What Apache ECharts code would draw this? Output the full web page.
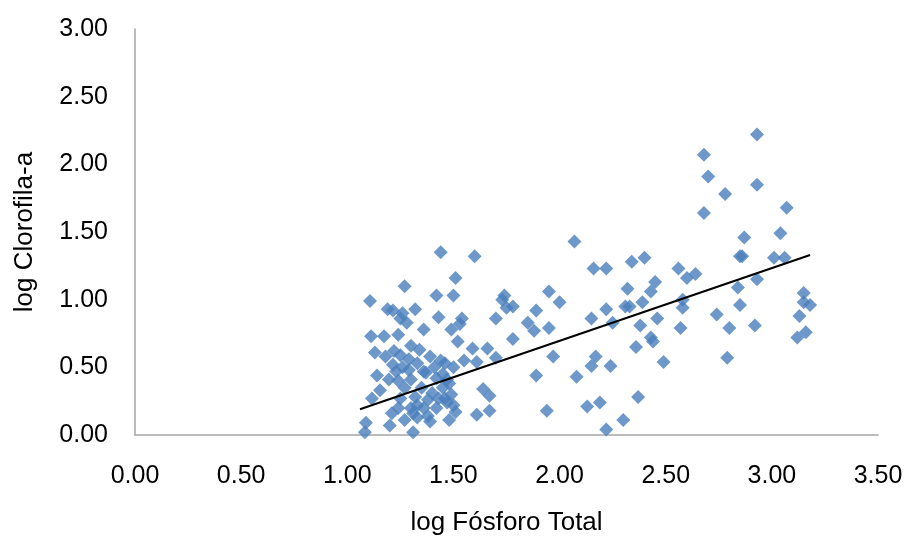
<!DOCTYPE html>
<html>
<head>
<meta charset="utf-8">
<script src="https://cdn.jsdelivr.net/npm/echarts@6/dist/echarts.min.js"></script>
<style>
  html, body { margin: 0; padding: 0; background: #ffffff; overflow: hidden; }
  #chart { width: 910px; height: 538px; }
</style>
</head>
<body>
<div id="chart"></div>
<script>
// log Fósforo Total (x) for each sample
const logFosforo = [
  1.083, 1.088, 1.107, 1.112, 1.116, 1.13, 1.14, 1.154, 1.173, 1.18,
  1.19, 1.196, 1.20, 1.21, 1.215, 1.215, 1.23, 1.24, 1.24, 1.25,
  1.25, 1.25, 1.26, 1.27, 1.27, 1.27, 1.28, 1.29, 1.30, 1.30,
  1.30, 1.31, 1.32, 1.32, 1.33, 1.33, 1.34, 1.35, 1.36, 1.36,
  1.37, 1.38, 1.39, 1.39, 1.40, 1.42, 1.42, 1.42, 1.43, 1.44,
  1.44, 1.45, 1.46, 1.46, 1.47, 1.48, 1.49, 1.49, 1.50, 1.50,
  1.51, 1.51, 1.52, 1.53, 1.54, 1.55, 1.59, 1.60, 1.61, 1.61,
  1.64, 1.66, 1.67, 1.67, 1.70, 1.70, 1.73, 1.74, 1.75, 1.78,
  1.78, 1.85, 1.88, 1.89, 1.89, 1.94, 1.95, 1.95, 1.97, 2.00,
  2.07, 2.08, 2.13, 2.15, 2.15, 2.16, 2.17, 2.19, 2.22, 2.22,
  2.22, 2.24, 2.25, 2.30, 2.31, 2.32, 2.33, 2.34, 2.36, 2.37,
  2.38, 2.39, 2.40, 2.43, 2.43, 2.44, 2.45, 2.46, 2.49, 2.56,
  2.57, 2.58, 2.58, 2.60, 2.64, 2.68, 2.68, 2.70, 2.74, 2.78,
  2.79, 2.80, 2.84, 2.85, 2.85, 2.86, 2.87, 2.92, 2.93, 2.93,
  2.93, 3.01, 3.04, 3.06, 3.07, 3.12, 3.13, 3.15, 3.15, 3.16,
  3.18,
  1.22, 1.26, 1.29, 1.33, 1.36, 1.38, 1.43, 1.45, 1.48, 1.50,
  1.24, 1.31, 1.41, 1.47
];

// log Clorofila-a (y) for each sample, same order
const logClorofila = [
  0.02, 0.09, 0.99, 0.73, 0.27, 0.61, 0.44, 0.33, 0.73, 0.58,
  0.93, 0.41, 0.07, 0.16, 0.92, 0.52, 0.47, 0.74, 0.20, 0.86,
  0.59, 0.27, 0.90, 1.10, 0.35, 0.11, 0.83, 0.48, 0.20, 0.66,
  0.41, 0.02, 0.28, 0.93, 0.53, 0.13, 0.63, 0.35, 0.78, 0.20,
  0.46, 0.26, 0.58, 0.10, 0.31, 1.03, 0.42, 0.20, 0.87, 1.35,
  0.55, 0.35, 0.27, 0.53, 0.41, 0.11, 0.30, 0.78, 1.03, 0.50,
  0.17, 1.16, 0.69, 0.82, 0.86, 0.55, 0.64, 1.32, 0.54, 0.15,
  0.34, 0.64, 0.18, 0.29, 0.86, 0.57, 1.00, 1.03, 0.94, 0.71,
  0.95, 0.83, 0.77, 0.92, 0.44, 0.18, 0.79, 1.06, 0.58, 0.98,
  1.43, 0.43, 0.21, 0.51, 0.86, 1.23, 0.58, 0.24, 1.23, 0.93,
  0.04, 0.51, 0.83, 0.11, 0.95, 1.08, 0.95, 1.28, 0.65, 0.28,
  0.81, 0.98, 1.31, 0.72, 1.06, 0.69, 1.13, 0.86, 0.54, 1.23,
  0.79, 1.00, 0.94, 1.16, 1.19, 2.07, 1.64, 1.91, 0.89, 1.78,
  0.57, 0.79, 1.09, 1.32, 0.96, 1.32, 1.46, 0.81, 1.85, 1.15,
  2.22, 1.31, 1.49, 1.31, 1.68, 0.72, 0.88, 1.05, 0.98, 0.76,
  0.96,
  0.62, 0.50, 0.56, 0.22, 0.47, 0.14, 0.27, 0.45, 0.38, 0.22,
  0.40, 0.16, 0.50, 0.24
];

// Linear trend line end points
const trendX = [1.06, 3.18];
const trendY = [0.19, 1.33];

// Axis tick values
const xTicks = [0, 0.5, 1.0, 1.5, 2.0, 2.5, 3.0, 3.5];
const yTicks = [0, 0.5, 1.0, 1.5, 2.0, 2.5, 3.0];

const points = logFosforo.map((x, i) => [x, logClorofila[i]]);
const trend = trendX.map((x, i) => [x, trendY[i]]);

const font = 'Liberation Sans, Arial, sans-serif';
const chart = echarts.init(document.getElementById('chart'), null, { renderer: 'canvas' });

chart.setOption({
  animation: false,
  backgroundColor: '#ffffff',
  grid: {
    left: 135, right: 32, top: 29, bottom: 103,
    containLabel: false,
    outerBoundsMode: 'none'
  },
  xAxis: {
    type: 'value',
    min: xTicks[0],
    max: xTicks[xTicks.length - 1],
    interval: 0.5,
    name: 'log Fósforo Total',
    nameLocation: 'middle',
    nameGap: 75,
    nameTextStyle: { fontFamily: font, fontSize: 26, color: '#000' },
    axisLine: { show: true, lineStyle: { color: '#a6a6a6', width: 1.5 } },
    axisTick: { show: false },
    splitLine: { show: false },
    axisLabel: {
      margin: 29,
      fontFamily: font, fontSize: 25, color: '#000',
      formatter: v => v.toFixed(2)
    }
  },
  yAxis: {
    type: 'value',
    min: yTicks[0],
    max: yTicks[yTicks.length - 1],
    interval: 0.5,
    name: 'log Clorofila-a',
    nameLocation: 'middle',
    nameGap: 97,
    nameRotate: 90,
    nameTextStyle: { fontFamily: font, fontSize: 26, color: '#000' },
    axisLine: { show: true, lineStyle: { color: '#a6a6a6', width: 1.5 } },
    axisTick: { show: false },
    splitLine: { show: false },
    axisLabel: {
      margin: 27,
      fontFamily: font, fontSize: 25, color: '#000',
      formatter: v => v.toFixed(2)
    }
  },
  series: [
    {
      type: 'scatter',
      data: points,
      symbol: 'diamond',
      symbolSize: [14, 14],
      itemStyle: { color: '#4a7ebb' },
      z: 2
    },
    {
      type: 'line',
      data: trend,
      symbol: 'none',
      lineStyle: { color: '#000', width: 2 },
      z: 3
    }
  ]
});
</script>
</body>
</html>
